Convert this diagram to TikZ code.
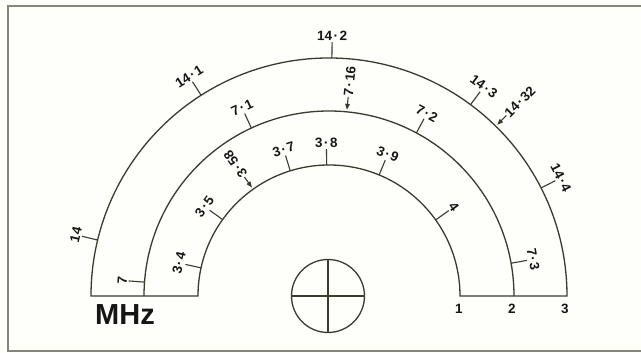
\documentclass[tikz,border=0pt]{standalone}
\usepackage{fontspec}
\setmainfont{Liberation Sans}[BoldFont={Liberation Sans Bold}]
\usetikzlibrary{arrows.meta,calc}
\definecolor{ink}{HTML}{3A3A2E}
\definecolor{txt}{HTML}{161616}
\definecolor{framec}{HTML}{85857A}
\definecolor{bg}{HTML}{FEFEFA}
\newcommand\dd{\kern1.4pt·\kern1.4pt}
\newcommand\dtick[4]{%
  \draw[tickline] (C) ++(#2:#1) coordinate (#3-a) -- ++(#2:16) coordinate (#3-b);
  \node[lab, anchor=south, rotate={#2-90}] (#3) at (#3-b) {#4};}
\newcommand\darrow[4]{%
  \path (C) ++(#2:#1) ++(#2:2) coordinate (#3-tip) ++(#2:13) coordinate (#3-tail);
  \draw[arrline] (#3-tail) -- (#3-tip);
  \node[lab, anchor=west, inner sep=0.5pt, rotate={#2}] (#3) at (#3-tail) {#4};}
\begin{document}
\begin{tikzpicture}[x=1pt,y=1pt,
  arcline/.style={line width=1.3pt, draw=ink, line join=miter},
  tickline/.style={line width=1.1pt, draw=ink},
  arrline/.style={line width=1.1pt, draw=ink, -{Triangle[length=6pt,width=4.5pt]}},
  lab/.style={text=txt, font=\fontsize{13.5}{15}\selectfont\bfseries, inner sep=1.5pt},
  frameline/.style={line width=1.6pt, draw=framec}]
\useasboundingbox (0,0) rectangle (641,353);
\fill[bg] (0,0) rectangle (641,353);
\draw[frameline] (645,347) -- (8,347) -- (8,2) -- (645,2);
\coordinate (C) at (329,57);
% scale bands
\draw[arcline] (C) ++(-238,0) arc[start angle=180,end angle=0,radius=238]
  -- ++(-107,0) arc[start angle=0,end angle=180,radius=131] -- cycle;
\draw[arcline] (C) ++(-185,0) arc[start angle=180,end angle=0,radius=185];
% outer scale (14 MHz)
\dtick{238}{166.4}{o140}{14}
\dtick{238}{122.5}{o141}{14\dd1}
\dtick{238}{89.3}{o142}{14\dd2}
\dtick{238}{53.5}{o143}{14\dd3}
\dtick{238}{27}{o144}{14\dd4}
\darrow{238}{45.5}{o1432}{14\dd32}
% middle scale (7 MHz)
\dtick{185}{175.7}{m70}{7}
\dtick{185}{114.8}{m71}{7\dd1}
\dtick{185}{61.8}{m72}{7\dd2}
\dtick{185}{10.2}{m73}{7\dd3}
\darrow{185}{84.5}{m716}{7\dd16}
% inner scale (3.5 MHz)
\dtick{131}{167.6}{i34}{3\dd4}
\dtick{131}{144.3}{i35}{3\dd5}
\dtick{131}{107.2}{i37}{3\dd7}
\dtick{131}{91}{i38}{3\dd8}
\dtick{131}{67.5}{i39}{3\dd9}
\dtick{131}{35.5}{i40}{4}
\darrow{131}{125.4}{i358}{3\dd58}
% band numbers
\node[lab, anchor=base] (b1) at (459,39) {1};
\node[lab, anchor=base] (b2) at (512,39) {2};
\node[lab, anchor=base] (b3) at (565,39) {3};
\node[text=txt, font=\fontsize{29}{32}\selectfont\bfseries, anchor=base west, inner sep=0pt] (mhz) at (95,28) {MHz};
% crosshair
\node[circle, draw=ink, line width=1.3pt, minimum size=73pt, inner sep=0pt] (dial) at (328,57) {};
\draw[arcline] (dial.north) -- (dial.south);
\draw[arcline] (dial.west) -- (dial.east);
\end{tikzpicture}
\end{document}
